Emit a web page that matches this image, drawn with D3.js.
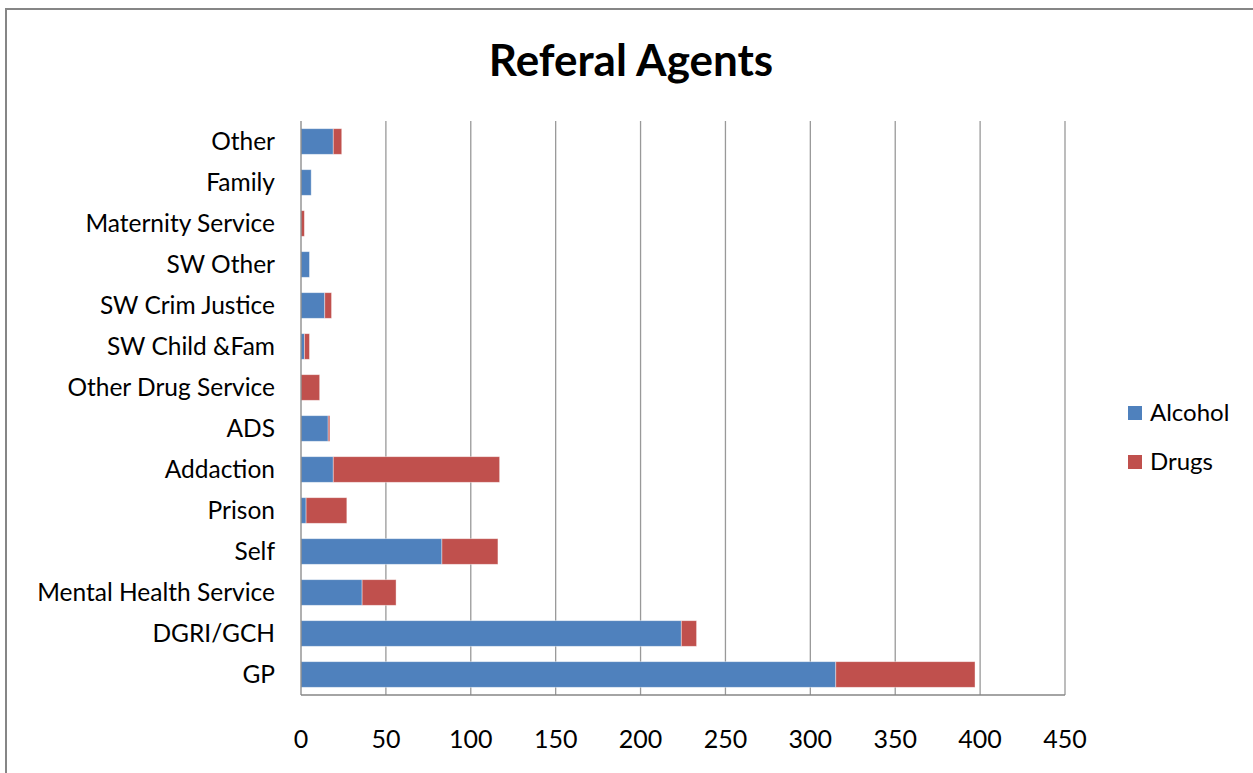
<!DOCTYPE html>
<html>
<head>
<meta charset="utf-8">
<script src="https://cdn.jsdelivr.net/npm/d3@7"></script>
<style>
  body { margin: 0; background: #fff; }
  text { font-family: Lato, "Open Sans", sans-serif; fill: #000; }
</style>
</head>
<body>
<div id="chart"></div>
<script>
// categories top to bottom
const agents = ["Other", "Family", "Maternity Service", "SW Other", "SW Crim Justice",
    "SW Child &Fam", "Other Drug Service", "ADS", "Addaction", "Prison", "Self",
    "Mental Health Service", "DGRI/GCH", "GP"];
const alcohol = [19, 6, 0, 5, 14, 2, 0, 16, 19, 3, 83, 36, 224, 315];
const drugs = [5, 0, 2, 0, 4, 3, 11, 1, 98, 24, 33, 20, 9, 82];
const xTicks = [0, 50, 100, 150, 200, 250, 300, 350, 400, 450];
const seriesNames = ["Alcohol", "Drugs"];
const colors = ["#4F81BD", "#C0504D"];

const width = 1253, height = 773;
const plotLeft = 301, plotRight = 1065, plotTop = 121, plotBottom = 695;

const svg = d3.select("#chart").append("svg")
    .attr("width", width)
    .attr("height", height);

svg.append("rect")
    .attr("x", 6).attr("y", 9)
    .attr("width", width).attr("height", height)
    .attr("fill", "#fff")
    .attr("stroke", "#868686")
    .attr("stroke-width", 2);

const x = d3.scaleLinear().domain([0, 450]).range([plotLeft, plotRight]);
const y = d3.scaleBand().domain(agents).range([plotTop, plotBottom]).paddingInner(0.375).paddingOuter(0.1875);

// gridlines
svg.selectAll("line.grid")
    .data(xTicks.slice(1))
    .enter().append("line")
    .attr("class", "grid")
    .attr("x1", d => x(d)).attr("x2", d => x(d))
    .attr("y1", plotTop).attr("y2", plotBottom)
    .attr("stroke", "#999")
    .attr("stroke-width", 1.3);

const rows = agents.map((a, i) => ({ agent: a, Alcohol: alcohol[i], Drugs: drugs[i] }));
const stacked = d3.stack().keys(seriesNames)(rows);

svg.selectAll("g.series")
    .data(stacked)
    .enter().append("g")
    .attr("class", "series")
    .attr("fill", (d, i) => colors[i])
    .selectAll("rect")
    .data(d => d)
    .enter().append("rect")
    .attr("x", d => x(d[0]))
    .attr("y", d => y(d.data.agent))
    .attr("width", d => x(d[1]) - x(d[0]))
    .attr("height", y.bandwidth())
    .attr("stroke", "#fff")
    .attr("stroke-opacity", 0.5)
    .attr("stroke-width", 0.8);

// axes lines
svg.append("line")
    .attr("x1", plotLeft).attr("x2", plotLeft)
    .attr("y1", plotTop).attr("y2", plotBottom)
    .attr("stroke", "#868686").attr("stroke-width", 1.3);
svg.append("line")
    .attr("x1", plotLeft).attr("x2", plotRight)
    .attr("y1", plotBottom).attr("y2", plotBottom)
    .attr("stroke", "#868686").attr("stroke-width", 1.3);

// x tick labels
svg.selectAll("text.xtick")
    .data(xTicks)
    .enter().append("text")
    .attr("class", "xtick")
    .attr("x", d => x(d))
    .attr("y", 739)
    .attr("dy", "0.35em")
    .attr("text-anchor", "middle")
    .style("font-size", "25px")
    .text(d => d);

// category labels
svg.selectAll("text.cat")
    .data(agents)
    .enter().append("text")
    .attr("class", "cat")
    .attr("x", 275)
    .attr("y", d => y(d) + y.bandwidth() / 2)
    .attr("dy", "0.35em")
    .attr("text-anchor", "end")
    .style("font-size", "24.5px")
    .text(d => d);

// title
svg.append("text")
    .attr("x", 631).attr("y", 76)
    .attr("text-anchor", "middle")
    .style("font-size", "44px")
    .style("font-weight", "bold")
    .text("Referal Agents");

// legend
const legend = svg.selectAll("g.legend")
    .data(seriesNames)
    .enter().append("g")
    .attr("class", "legend")
    .attr("transform", (d, i) => `translate(1128, ${413 + i * 49})`);
legend.append("rect")
    .attr("x", 0).attr("y", -7)
    .attr("width", 14).attr("height", 14)
    .attr("fill", (d, i) => colors[i]);
legend.append("text")
    .attr("x", 22).attr("y", 0)
    .attr("dy", "0.35em")
    .style("font-size", "24px")
    .text(d => d);
</script>
</body>
</html>
